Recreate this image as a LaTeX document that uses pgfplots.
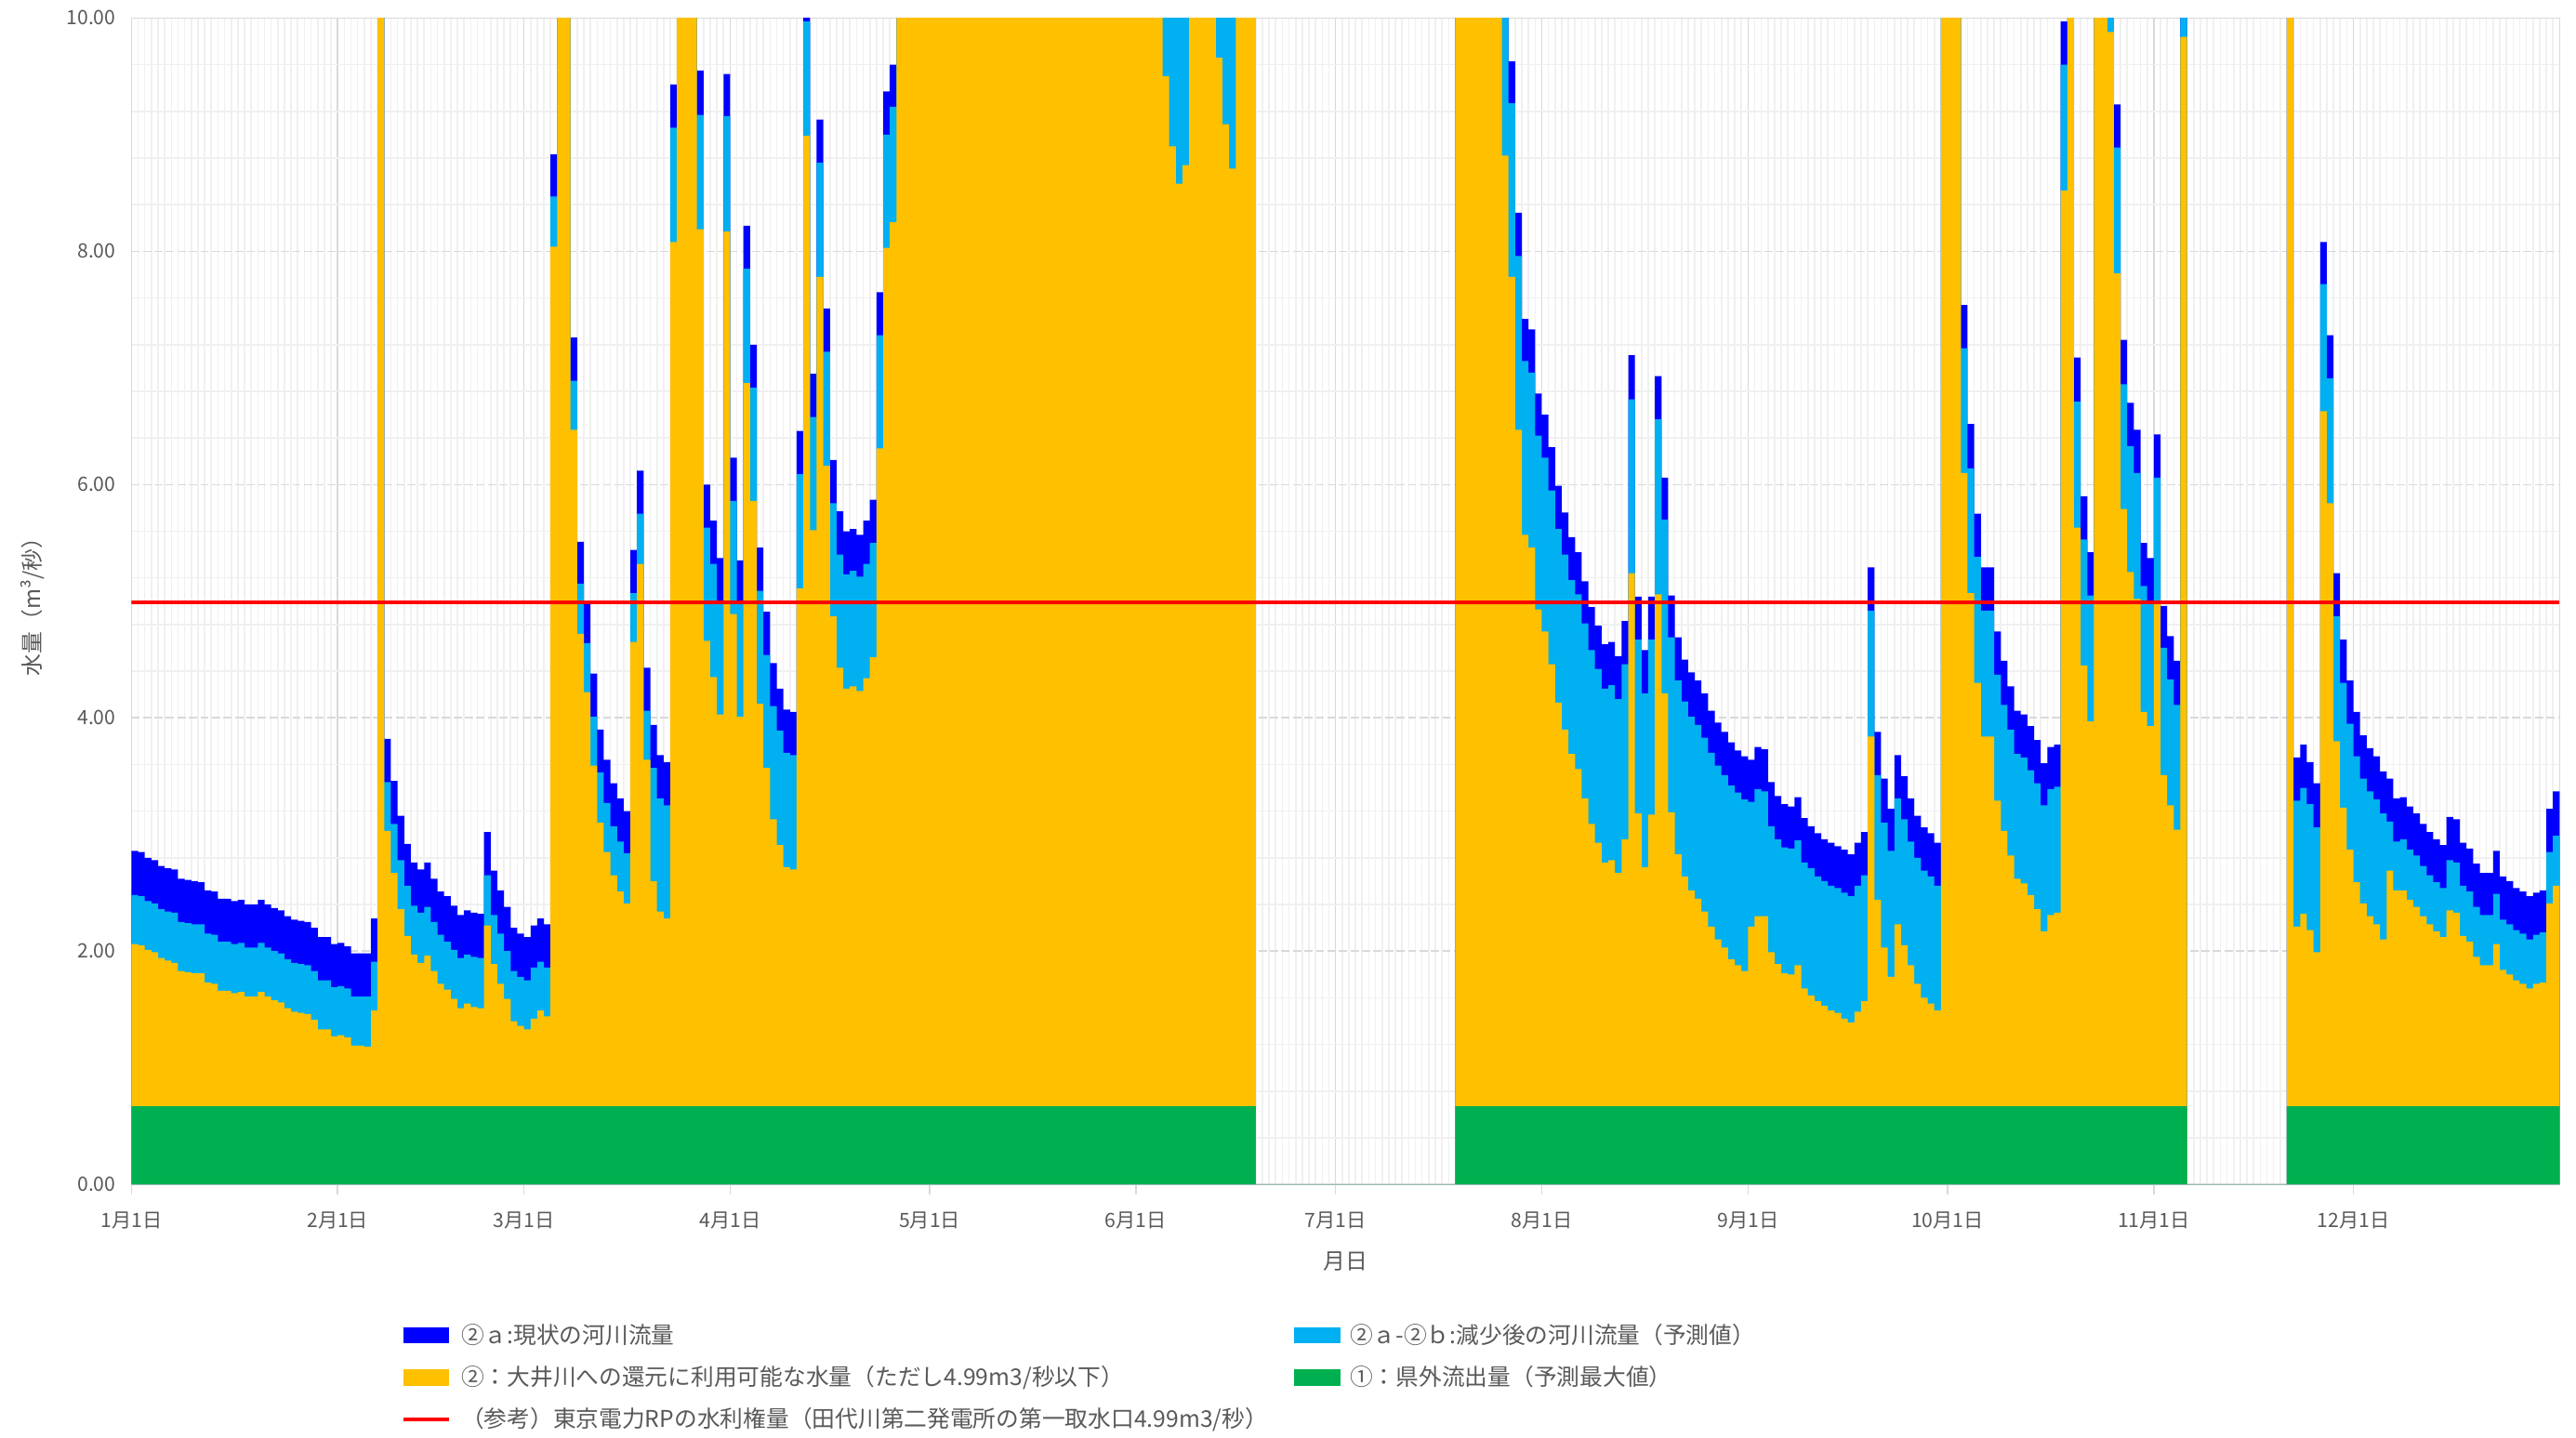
\documentclass[border=0pt]{standalone}
\usepackage{fontspec}
\setmainfont{Noto Sans CJK JP}
\usepackage{pgfplots}
\usepackage{pgfplotstable}
\pgfplotsset{compat=1.18}
\definecolor{cB}{HTML}{0000FF}
\definecolor{cC}{HTML}{00B0F0}
\definecolor{cO}{HTML}{FFC000}
\definecolor{cG}{HTML}{00B050}
\definecolor{txt}{HTML}{595959}
\definecolor{gmaj}{HTML}{D9D9D9}
\definecolor{gmin}{HTML}{F0F0F0}
\pgfplotstableread{
d G O C B
0 0.67 2.06 2.48 2.86
1 0.67 2.05 2.47 2.85
2 0.67 2.01 2.43 2.80
3 0.67 1.99 2.41 2.78
4 0.67 1.94 2.36 2.73
5 0.67 1.92 2.34 2.71
6 0.67 1.90 2.33 2.70
7 0.67 1.83 2.25 2.62
8 0.67 1.82 2.24 2.61
9 0.67 1.81 2.23 2.60
10 0.67 1.81 2.23 2.59
11 0.67 1.73 2.15 2.52
12 0.67 1.72 2.14 2.51
13 0.67 1.66 2.08 2.45
14 0.67 1.66 2.08 2.45
15 0.67 1.64 2.06 2.43
16 0.67 1.65 2.07 2.44
17 0.67 1.61 2.03 2.40
18 0.67 1.61 2.03 2.40
19 0.67 1.65 2.07 2.44
20 0.67 1.61 2.03 2.40
21 0.67 1.58 2.00 2.37
22 0.67 1.56 1.98 2.35
23 0.67 1.51 1.93 2.30
24 0.67 1.48 1.90 2.27
25 0.67 1.47 1.89 2.26
26 0.67 1.46 1.88 2.25
27 0.67 1.41 1.83 2.20
28 0.67 1.33 1.75 2.12
29 0.67 1.33 1.75 2.12
30 0.67 1.27 1.69 2.06
31 0.67 1.28 1.70 2.07
32 0.67 1.26 1.68 2.04
33 0.67 1.19 1.61 1.98
34 0.67 1.19 1.61 1.98
35 0.67 1.18 1.61 1.98
36 0.67 1.49 1.91 2.28
37 0.67 12 12 12
38 0.67 3.03 3.45 3.82
39 0.67 2.67 3.09 3.46
40 0.67 2.36 2.78 3.16
41 0.67 2.13 2.56 2.92
42 0.67 1.97 2.39 2.76
43 0.67 1.90 2.33 2.70
44 0.67 1.96 2.38 2.76
45 0.67 1.83 2.25 2.62
46 0.67 1.72 2.14 2.51
47 0.67 1.67 2.08 2.47
48 0.67 1.59 2.01 2.39
49 0.67 1.51 1.94 2.31
50 0.67 1.55 1.97 2.35
51 0.67 1.52 1.95 2.33
52 0.67 1.51 1.94 2.32
53 0.67 2.22 2.65 3.02
54 0.67 1.89 2.31 2.69
55 0.67 1.72 2.15 2.52
56 0.67 1.59 2.00 2.38
57 0.67 1.40 1.83 2.20
58 0.67 1.36 1.78 2.15
59 0.67 1.33 1.75 2.12
60 0.67 1.42 1.86 2.22
61 0.67 1.49 1.91 2.28
62 0.67 1.44 1.86 2.23
63 0.67 8.04 8.47 8.83
64 0.67 12 12 12
65 0.67 12 12 12
66 0.67 6.47 6.89 7.26
67 0.67 4.72 5.15 5.51
68 0.67 4.22 4.64 5.00
69 0.67 3.59 4.01 4.38
70 0.67 3.10 3.53 3.90
71 0.67 2.85 3.27 3.64
72 0.67 2.65 3.07 3.44
73 0.67 2.51 2.94 3.31
74 0.67 2.41 2.84 3.20
75 0.67 4.65 5.07 5.44
76 0.67 5.32 5.75 6.12
77 0.67 3.64 4.06 4.43
78 0.67 2.60 3.57 3.94
79 0.67 2.34 3.31 3.68
80 0.67 2.28 3.25 3.62
81 0.67 8.08 9.06 9.43
82 0.67 12 12 12
83 0.67 12 12 12
84 0.67 12 12 12
85 0.67 8.19 9.17 9.55
86 0.67 4.66 5.63 6.00
87 0.67 4.35 5.32 5.69
88 0.67 4.03 5.00 5.37
89 0.67 8.17 9.16 9.52
90 0.67 4.89 5.86 6.23
91 0.67 4.01 4.98 5.35
92 0.67 6.87 7.85 8.22
93 0.67 5.86 6.83 7.20
94 0.67 4.12 5.09 5.46
95 0.67 3.57 4.54 4.91
96 0.67 3.13 4.10 4.47
97 0.67 2.91 3.89 4.25
98 0.67 2.72 3.70 4.07
99 0.67 2.70 3.68 4.05
100 0.67 5.11 6.09 6.46
101 0.67 8.99 9.97 10.3
102 0.67 5.61 6.58 6.95
103 0.67 7.78 8.76 9.13
104 0.67 6.16 7.14 7.51
105 0.67 4.87 5.84 6.21
106 0.67 4.43 5.40 5.77
107 0.67 4.25 5.23 5.60
108 0.67 4.27 5.26 5.62
109 0.67 4.23 5.21 5.57
110 0.67 4.34 5.32 5.69
111 0.67 4.52 5.50 5.87
112 0.67 6.31 7.28 7.65
113 0.67 8.03 9.00 9.37
114 0.67 8.25 9.24 9.60
115 0.67 12 12 12
116 0.67 12 12 12
117 0.67 12 12 12
118 0.67 12 12 12
119 0.67 12 12 12
120 0.67 12 12 12
121 0.67 12 12 12
122 0.67 12 12 12
123 0.67 12 12 12
124 0.67 12 12 12
125 0.67 12 12 12
126 0.67 12 12 12
127 0.67 12 12 12
128 0.67 12 12 12
129 0.67 12 12 12
130 0.67 12 12 12
131 0.67 12 12 12
132 0.67 12 12 12
133 0.67 12 12 12
134 0.67 12 12 12
135 0.67 12 12 12
136 0.67 12 12 12
137 0.67 12 12 12
138 0.67 12 12 12
139 0.67 12 12 12
140 0.67 12 12 12
141 0.67 12 12 12
142 0.67 12 12 12
143 0.67 12 12 12
144 0.67 12 12 12
145 0.67 12 12 12
146 0.67 12 12 12
147 0.67 12 12 12
148 0.67 12 12 12
149 0.67 12 12 12
150 0.67 12 12 12
151 0.67 12 12 12
152 0.67 12 12 12
153 0.67 12 12 12
154 0.67 12 12 12
155 0.67 9.50 12 12
156 0.67 8.90 12 12
157 0.67 8.58 12 12
158 0.67 8.74 12 12
159 0.67 12 12 12
160 0.67 12 12 12
161 0.67 12 12 12
162 0.67 12 12 12
163 0.67 9.66 12 12
164 0.67 9.09 12 12
165 0.67 8.71 12 12
166 0.67 12 12 12
167 0.67 12 12 12
168 0.67 12 12 12
169 0 0 0 0
170 0 0 0 0
171 0 0 0 0
172 0 0 0 0
173 0 0 0 0
174 0 0 0 0
175 0 0 0 0
176 0 0 0 0
177 0 0 0 0
178 0 0 0 0
179 0 0 0 0
180 0 0 0 0
181 0 0 0 0
182 0 0 0 0
183 0 0 0 0
184 0 0 0 0
185 0 0 0 0
186 0 0 0 0
187 0 0 0 0
188 0 0 0 0
189 0 0 0 0
190 0 0 0 0
191 0 0 0 0
192 0 0 0 0
193 0 0 0 0
194 0 0 0 0
195 0 0 0 0
196 0 0 0 0
197 0 0 0 0
198 0 0 0 0
199 0.67 12 12 12
200 0.67 12 12 12
201 0.67 12 12 12
202 0.67 12 12 12
203 0.67 12 12 12
204 0.67 12 12 12
205 0.67 12 12 12
206 0.67 8.82 12 12
207 0.67 7.78 9.27 9.63
208 0.67 6.47 7.96 8.33
209 0.67 5.57 7.06 7.42
210 0.67 5.46 6.96 7.33
211 0.67 4.93 6.42 6.78
212 0.67 4.74 6.23 6.60
213 0.67 4.46 5.95 6.32
214 0.67 4.13 5.62 5.99
215 0.67 3.90 5.40 5.76
216 0.67 3.69 5.18 5.55
217 0.67 3.56 5.06 5.42
218 0.67 3.31 4.81 5.17
219 0.67 3.09 4.58 4.95
220 0.67 2.93 4.42 4.79
221 0.67 2.76 4.25 4.63
222 0.67 2.78 4.28 4.65
223 0.67 2.67 4.16 4.53
224 0.67 2.96 4.46 4.83
225 0.67 5.24 6.73 7.11
226 0.67 3.18 4.67 5.04
227 0.67 2.72 4.21 4.58
228 0.67 3.17 4.67 5.04
229 0.67 5.06 6.56 6.93
230 0.67 4.21 5.70 6.06
231 0.67 3.19 4.69 5.05
232 0.67 2.83 4.32 4.69
233 0.67 2.64 4.14 4.50
234 0.67 2.52 4.01 4.39
235 0.67 2.45 3.94 4.32
236 0.67 2.34 3.83 4.21
237 0.67 2.21 3.70 4.06
238 0.67 2.10 3.59 3.96
239 0.67 2.03 3.51 3.88
240 0.67 1.93 3.42 3.79
241 0.67 1.88 3.36 3.72
242 0.67 1.83 3.30 3.67
243 0.67 2.21 3.28 3.64
244 0.67 2.30 3.39 3.75
245 0.67 2.30 3.37 3.73
246 0.67 1.99 3.07 3.45
247 0.67 1.89 2.96 3.33
248 0.67 1.81 2.89 3.26
249 0.67 1.80 2.88 3.24
250 0.67 1.88 2.95 3.32
251 0.67 1.68 2.76 3.14
252 0.67 1.62 2.71 3.07
253 0.67 1.57 2.64 3.01
254 0.67 1.53 2.60 2.96
255 0.67 1.49 2.56 2.93
256 0.67 1.47 2.54 2.90
257 0.67 1.42 2.50 2.87
258 0.67 1.39 2.47 2.83
259 0.67 1.48 2.56 2.93
260 0.67 1.57 2.65 3.02
261 0.67 3.84 4.92 5.29
262 0.67 2.44 3.51 3.88
263 0.67 2.03 3.10 3.48
264 0.67 1.78 2.86 3.22
265 0.67 2.23 3.31 3.68
266 0.67 2.05 3.13 3.50
267 0.67 1.88 2.94 3.31
268 0.67 1.72 2.80 3.16
269 0.67 1.60 2.69 3.06
270 0.67 1.55 2.64 3.01
271 0.67 1.49 2.56 2.93
272 0.67 12 12 12
273 0.67 12 12 12
274 0.67 12 12 12
275 0.67 6.10 7.17 7.54
276 0.67 5.07 6.14 6.52
277 0.67 4.30 5.38 5.75
278 0.67 3.84 4.92 5.29
279 0.67 3.84 4.92 5.29
280 0.67 3.29 4.37 4.74
281 0.67 3.03 4.11 4.49
282 0.67 2.82 3.90 4.27
283 0.67 2.62 3.69 4.06
284 0.67 2.58 3.66 4.03
285 0.67 2.48 3.55 3.93
286 0.67 2.36 3.44 3.81
287 0.67 2.17 3.25 3.61
288 0.67 2.31 3.39 3.75
289 0.67 2.33 3.41 3.77
290 0.67 8.52 9.60 9.97
291 0.67 12 12 12
292 0.67 5.63 6.71 7.09
293 0.67 4.45 5.53 5.90
294 0.67 3.97 5.05 5.42
295 0.67 12 12 12
296 0.67 12 12 12
297 0.67 9.88 12 12
298 0.67 7.81 8.89 9.26
299 0.67 5.79 6.86 7.24
300 0.67 5.25 6.33 6.70
301 0.67 5.02 6.10 6.47
302 0.67 4.05 5.13 5.50
303 0.67 3.93 5.00 5.37
304 0.67 4.98 6.06 6.43
305 0.67 3.51 4.60 4.96
306 0.67 3.25 4.33 4.70
307 0.67 3.04 4.11 4.49
308 0.67 9.84 12 12
309 0 0 0 0
310 0 0 0 0
311 0 0 0 0
312 0 0 0 0
313 0 0 0 0
314 0 0 0 0
315 0 0 0 0
316 0 0 0 0
317 0 0 0 0
318 0 0 0 0
319 0 0 0 0
320 0 0 0 0
321 0 0 0 0
322 0 0 0 0
323 0 0 0 0
324 0.67 12 12 12
325 0.67 2.21 3.29 3.66
326 0.67 2.32 3.40 3.77
327 0.67 2.18 3.26 3.62
328 0.67 1.99 3.06 3.44
329 0.67 6.63 7.72 8.08
330 0.67 5.84 6.91 7.28
331 0.67 3.80 4.87 5.24
332 0.67 3.23 4.30 4.67
333 0.67 2.87 3.95 4.32
334 0.67 2.59 3.67 4.05
335 0.67 2.41 3.48 3.85
336 0.67 2.30 3.37 3.74
337 0.67 2.23 3.30 3.67
338 0.67 2.10 3.18 3.54
339 0.67 2.69 3.11 3.48
340 0.67 2.52 2.94 3.31
341 0.67 2.52 2.96 3.32
342 0.67 2.44 2.87 3.24
343 0.67 2.38 2.82 3.18
344 0.67 2.30 2.73 3.09
345 0.67 2.23 2.65 3.02
346 0.67 2.17 2.59 2.96
347 0.67 2.12 2.54 2.91
348 0.67 2.35 2.78 3.15
349 0.67 2.33 2.76 3.13
350 0.67 2.13 2.56 2.93
351 0.67 2.08 2.51 2.88
352 0.67 1.95 2.38 2.75
353 0.67 1.88 2.31 2.67
354 0.67 1.88 2.31 2.67
355 0.67 2.06 2.49 2.86
356 0.67 1.84 2.27 2.64
357 0.67 1.80 2.23 2.60
358 0.67 1.75 2.18 2.54
359 0.67 1.72 2.15 2.51
360 0.67 1.68 2.10 2.47
361 0.67 1.72 2.14 2.50
362 0.67 1.73 2.16 2.52
363 0.67 2.41 2.85 3.22
364 0.67 2.56 2.99 3.37
365 0.67 2.56 2.99 3.37
}\data
\begin{document}
\begin{tikzpicture}
\useasboundingbox (-80pt,-154pt) rectangle (1488pt,721pt);
\begin{axis}[
  scale only axis, width=1478pt, height=710pt,
  at={(0,0)}, anchor=south west,
  xmin=0, xmax=365, ymin=0, ymax=10,
  xtick={0,31,59,90,120,151,181,212,243,273,304,334},
  xticklabels={1月1日,2月1日,3月1日,4月1日,5月1日,6月1日,7月1日,8月1日,9月1日,10月1日,11月1日,12月1日},
  minor xtick={0,1,...,365},
  ytick={0,2,4,6,8,10},
  minor ytick={0.4,0.8,1.2,1.6,2.4,2.8,3.2,3.6,4.4,4.8,5.2,5.6,6.4,6.8,7.2,7.6,8.4,8.8,9.2,9.6},
  xmajorgrids, xminorgrids, ymajorgrids, yminorgrids,
  major x grid style={gmaj, line width=0.9pt},
  minor x grid style={gmin, line width=0.9pt},
  major y grid style={gmaj, line width=0.9pt, dash pattern=on 5pt off 2pt},
  minor y grid style={gmin, line width=0.9pt},
  axis line style={gmaj, line width=0.9pt},
  tick align=outside, tick pos=left,
  major tick length=6pt, minor tick length=0pt,
  xtick style={gmaj, line width=0.9pt},
  ytick style={draw=none},
  tick label style={font=\fontsize{12}{14}\selectfont, text=txt},
  xticklabel style={yshift=-7pt},
  /pgf/number format/assume math mode=true,
  yticklabel style={/pgf/number format/.cd, fixed, fixed zerofill, precision=2},
  xlabel={月日}, ylabel={水量（m³/秒）},
  label style={font=\fontsize{13.5}{15}\selectfont, text=txt},
  xlabel style={at={(rel axis cs:0.5,0)}, anchor=center, yshift=-47pt},
  ylabel style={at={([xshift=-60pt]rel axis cs:0,0.5)}, anchor=center},
  legend columns=2,
  legend cell align=left,
  legend style={draw=none, fill=none, at={(rel axis cs:0,0)}, anchor=north west,
    xshift=164pt, yshift=-83pt, font=\fontsize{14}{16}\selectfont, text=txt,
    row sep=8pt, inner sep=0pt,
    /tikz/every odd column/.append style={column sep=4pt}},
]
\addplot[fill=cB, draw=none, const plot mark left,
  legend image code/.code={\fill[cB] (0pt,-5pt) rectangle (28pt,5pt);}]
  table[x=d, y=B] {\data} \closedcycle;
\addlegendentry{\makebox[505pt][l]{②ａ:現状の河川流量}}
\addplot[fill=cC, draw=none, const plot mark left,
  legend image code/.code={\fill[cC] (0pt,-5pt) rectangle (28pt,5pt);}]
  table[x=d, y=C] {\data} \closedcycle;
\addlegendentry{②ａ-②ｂ:減少後の河川流量（予測値）}
\addplot[fill=cO, draw=none, const plot mark left,
  legend image code/.code={\fill[cO] (0pt,-5pt) rectangle (28pt,5pt);}]
  table[x=d, y=O] {\data} \closedcycle;
\addlegendentry{\makebox[505pt][l]{②：大井川への還元に利用可能な水量（ただし4.99m3/秒以下）}}
\addplot[fill=cG, draw=none, const plot mark left,
  legend image code/.code={\fill[cG] (0pt,-5pt) rectangle (28pt,5pt);}]
  table[x=d, y=G] {\data} \closedcycle;
\addlegendentry{①：県外流出量（予測最大値）}
\addplot[red, line width=2.5pt,
  legend image code/.code={\draw[red, line width=2.5pt] (0pt,0pt) -- (28pt,0pt);}]
  coordinates {(0,4.99) (365,4.99)};
\addlegendentry{（参考）東京電力RPの水利権量（田代川第二発電所の第一取水口4.99m3/秒）}
\end{axis}
\end{tikzpicture}
\end{document}
